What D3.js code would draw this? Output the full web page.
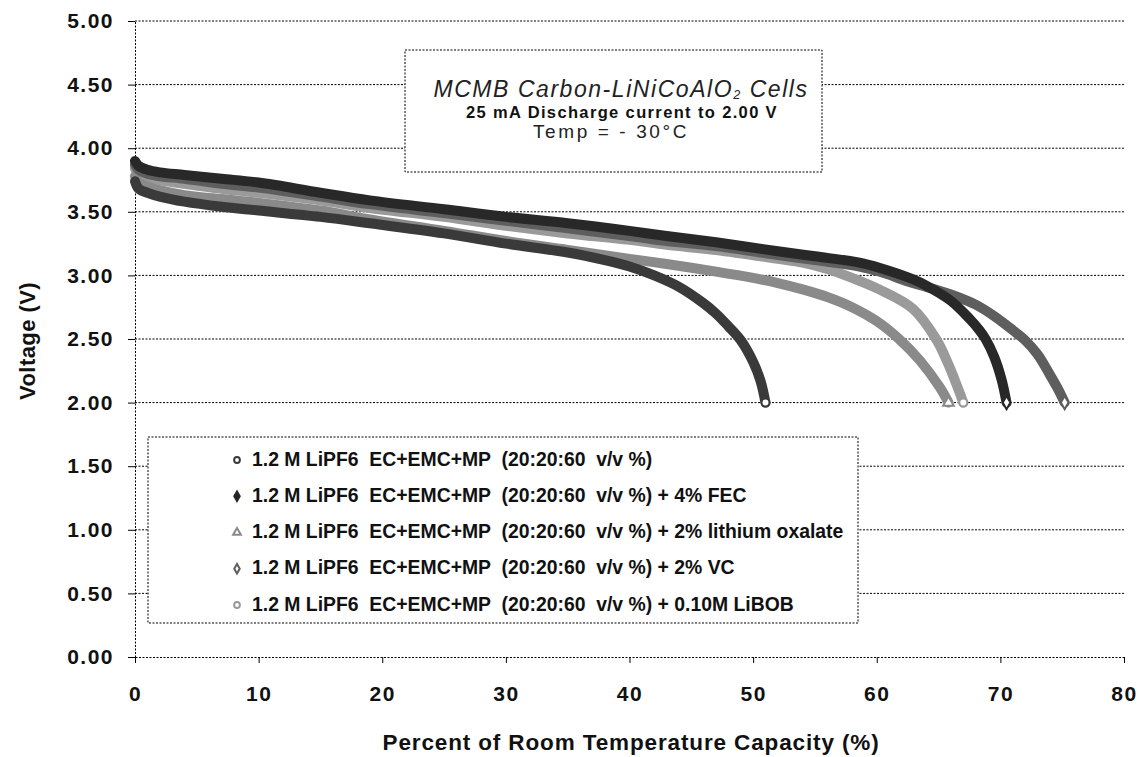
<!DOCTYPE html>
<html><head><meta charset="utf-8">
<script src="https://cdn.jsdelivr.net/npm/d3@7"></script>
<style>
body{margin:0;background:#fff}
svg{display:block}
text{font-family:"Liberation Sans",Arial,sans-serif}
</style>
</head><body><svg id="c" width="1143" height="757"></svg>
<script>
// ---------- data ----------
const xTickValues=[0,10,20,30,40,50,60,70,80];
const yTickValues=[0,0.5,1,1.5,2,2.5,3,3.5,4,4.5,5];
const seriesNames=[
 "1.2 M LiPF6  EC+EMC+MP  (20:20:60  v/v %)",
 "1.2 M LiPF6  EC+EMC+MP  (20:20:60  v/v %) + 4% FEC",
 "1.2 M LiPF6  EC+EMC+MP  (20:20:60  v/v %) + 2% lithium oxalate",
 "1.2 M LiPF6  EC+EMC+MP  (20:20:60  v/v %) + 2% VC",
 "1.2 M LiPF6  EC+EMC+MP  (20:20:60  v/v %) + 0.10M LiBOB"
];
const baselineX=[0,0.3,1,2,4,7,10,15,19,25,30,35,38,40,42,44,46,47,48,49,50,50.6,51];
const baselineV=[3.74,3.68,3.65,3.62,3.58,3.54,3.51,3.46,3.41,3.33,3.25,3.18,3.12,3.07,3.00,2.91,2.78,2.70,2.60,2.49,2.32,2.17,2.00];
const fecX=[0,0.3,1,2,4,7,10,15,19,25,30,35,40,43,47,52,55,58.6,60.2,62.9,64,66,67.5,68.3,68.8,69.5,70.1,70.5];
const fecV=[3.90,3.86,3.83,3.81,3.79,3.76,3.73,3.65,3.59,3.52,3.46,3.41,3.35,3.31,3.26,3.19,3.15,3.10,3.06,2.97,2.92,2.80,2.66,2.57,2.50,2.36,2.18,2.00];
const oxalateX=[0,0.3,1,2,4,7,10,15,19,25,30,35,40,43,47,50,52,54,56,58,60,61.8,63.5,65.1,65.8];
const oxalateV=[3.78,3.73,3.70,3.67,3.63,3.60,3.57,3.51,3.44,3.35,3.27,3.20,3.13,3.09,3.03,2.98,2.94,2.89,2.83,2.75,2.64,2.50,2.33,2.12,2.00];
const vcX=[0,0.3,1,2,4,7,10,15,19,25,30,35,40,43,47,52,55,58.6,60.2,62.9,64,66,68,69.5,71,72,73,74,74.7,75.2];
const vcV=[3.87,3.83,3.80,3.78,3.76,3.72,3.69,3.62,3.56,3.49,3.43,3.37,3.31,3.27,3.23,3.16,3.12,3.07,3.03,2.94,2.91,2.85,2.77,2.68,2.57,2.49,2.38,2.22,2.10,2.00];
const libobX=[0,0.3,1,2,4,7,10,15,19,25,30,35,40,43,47,52,54,56,58,60.2,62.9,64.8,65.8,66.5,67];
const libobV=[3.84,3.80,3.77,3.75,3.72,3.68,3.65,3.59,3.53,3.46,3.39,3.33,3.28,3.24,3.20,3.13,3.10,3.05,2.98,2.89,2.74,2.50,2.30,2.13,2.00];

// ---------- build ----------
const W=1143,H=757;
const svg=d3.select('#c');
svg.append('rect').attr('width',W).attr('height',H).attr('fill','#fff');
const x=d3.scaleLinear().domain([0,80]).range([135,1124]);
const y=d3.scaleLinear().domain([0,5]).range([657,21]);

// gridlines
svg.append('g').selectAll('line').data(yTickValues.filter(v=>v>0)).join('line')
 .attr('x1',x(0)).attr('x2',x(80)).attr('y1',d=>y(d)).attr('y2',d=>y(d))
 .attr('stroke','#000').attr('stroke-width',1).attr('stroke-dasharray','2,1.5');

// axes
const tickFont=g=>g.selectAll('text').attr('font-size',21).attr('font-weight','bold')
 .attr('letter-spacing','1.5px').attr('fill','#111').attr('font-family','"Liberation Sans",Arial,sans-serif');
const yAx=svg.append('g').attr('transform',`translate(${x(0)},0)`)
 .call(d3.axisLeft(y).tickValues(yTickValues).tickFormat(d3.format('.2f')).tickSize(7).tickSizeOuter(0).tickPadding(14));
yAx.call(tickFont);
yAx.select('.domain').attr('stroke-dasharray','2,1.5');
const xAx=svg.append('g').attr('transform',`translate(0,${y(0)})`)
 .call(d3.axisBottom(x).tickValues(xTickValues).tickFormat(d3.format('d')).tickSize(6).tickSizeOuter(0).tickPadding(23));
xAx.call(tickFont);
xAx.select('.domain').attr('stroke-dasharray','2,1.5');

// curves
const series=[
 {name:seriesNames[0],xs:baselineX,vs:baselineV,color:'#3a3a3a',sym:d3.symbolCircle},
 {name:seriesNames[1],xs:fecX,vs:fecV,color:'#282828',sym:d3.symbolDiamond},
 {name:seriesNames[2],xs:oxalateX,vs:oxalateV,color:'#8a8a8a',sym:d3.symbolTriangle},
 {name:seriesNames[3],xs:vcX,vs:vcV,color:'#5e5e5e',sym:d3.symbolDiamond},
 {name:seriesNames[4],xs:libobX,vs:libobV,color:'#9a9a9a',sym:d3.symbolCircle}
];
const line=d3.line().x(d=>x(d[0])).y(d=>y(d[1])).curve(d3.curveCatmullRom.alpha(0.5));
const drawOrder=[4,2,3,0,1];
const cg=svg.append('g');
drawOrder.forEach(i=>{
 const s=series[i];
 const pts=s.xs.map((v,k)=>[v,s.vs[k]]);
 cg.append('path').attr('d',line(pts)).attr('fill','none').attr('stroke',s.color)
  .attr('stroke-width',10).attr('stroke-linecap','round').attr('stroke-linejoin','round');
});
drawOrder.forEach(i=>{
 const s=series[i];
 const last=[s.xs[s.xs.length-1],s.vs[s.vs.length-1]];
 cg.append('path').attr('d',d3.symbol().type(s.sym).size(50)())
  .attr('transform',`translate(${x(last[0])},${y(last[1])})`)
  .attr('fill','#fff').attr('stroke',s.color).attr('stroke-width',2);
});

function spread(t,target){
 const w=t.node().getComputedTextLength();
 const n=t.text().length;
 t.attr('letter-spacing',((target-w)/n)+'px');
}

// title box
svg.append('rect').attr('x',405).attr('y',50).attr('width',417).attr('height',122)
 .attr('fill','#fff').attr('stroke','#000').attr('stroke-dasharray','2,1.5');
const t1=svg.append('text').attr('x',621).attr('y',97).attr('text-anchor','middle')
 .attr('font-size',23).attr('font-style','italic').attr('fill','#222');
t1.append('tspan').text('MCMB Carbon-LiNiCoAlO');
t1.append('tspan').attr('font-size','0.55em').attr('dy',2).text('2');
t1.append('tspan').attr('dy',-2).text(' Cells');
spread(t1,375);
const t2=svg.append('text').attr('x',622).attr('y',118).attr('text-anchor','middle')
 .attr('font-size',16.5).attr('font-weight','bold').attr('fill','#111').text('25 mA Discharge current to 2.00 V');
spread(t2,312);
const t3=svg.append('text').attr('x',611).attr('y',138).attr('text-anchor','middle')
 .attr('font-size',19).attr('fill','#222').text('Temp = - 30°C');
spread(t3,156);

// legend
svg.append('rect').attr('x',148).attr('y',437).attr('width',710).attr('height',186)
 .attr('fill','#fff').attr('stroke','#000').attr('stroke-dasharray','2,1.5');
const legY=d3.scalePoint().domain(d3.range(series.length)).range([460,605]);
const lg=svg.append('g');
let legTexts=[];
series.forEach((s,i)=>{
 lg.append('path').attr('d',d3.symbol().type(s.sym).size(26)())
  .attr('transform',`translate(237,${legY(i)})`)
  .attr('fill',i===1?'#222':'#fff').attr('stroke',s.color).attr('stroke-width',2);
 const t=lg.append('text').attr('x',252).attr('y',legY(i)+5.5).attr('font-size',16)
  .attr('font-weight','bold').attr('fill','#111').style('white-space','pre').text(s.name);
 legTexts.push(t);
});
const w0=legTexts[2].node().getComputedTextLength();
const fsL=16*592/w0;
legTexts.forEach(t=>t.attr('font-size',fsL));

// axis titles
const xt=svg.append('text').attr('x',631).attr('y',750).attr('text-anchor','middle')
 .attr('font-size',22.5).attr('font-weight','bold').attr('fill','#111')
 .text('Percent of Room Temperature Capacity (%)');
spread(xt,497);
const yt=svg.append('text').attr('transform','translate(35,341) rotate(-90)').attr('text-anchor','middle')
 .attr('font-size',22).attr('font-weight','bold').attr('fill','#111').text('Voltage (V)');
spread(yt,118);
</script></body></html>
